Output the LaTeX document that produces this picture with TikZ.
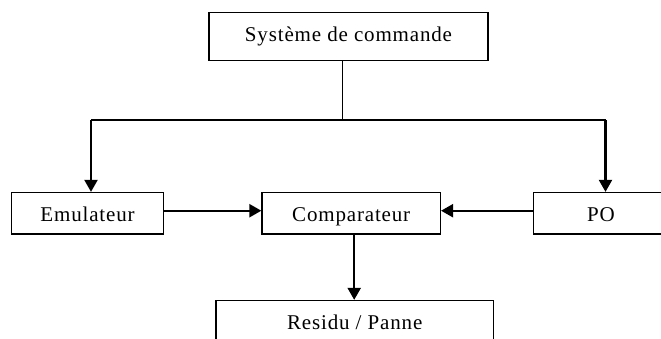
\documentclass[tikz,border=0pt]{standalone}
\usepackage{fontspec}
\setmainfont{Liberation Serif}[LetterSpace=4]
\usetikzlibrary{arrows.meta}

\begin{document}
\begin{tikzpicture}
  [
    x                  = 1pt,
    y                  = 1pt,
    every node/.style  = {font=\fontsize{21}{24}\selectfont},
    block/.style       = {draw, line width=1.2pt, inner sep=0pt,
                          minimum height=41.5pt, text height=19pt, text depth=2pt},
    link/.style        = {draw, line width=1pt},
    flow/.style        = {draw, line width=2.2pt,
                          -{Triangle[length=12pt, width=13pt]}}
  ]
  \useasboundingbox (0,0) rectangle (661,-338);
  \node[block, minimum width=279pt, minimum height=48pt, text height=13pt] (cmd) at (348.5,-36.2) { Système de commande };
  \node[block, minimum width=152pt]   (emu)  at (87.5,-213.2)  { Emulateur };
  \node[block, minimum width=178.5pt] (comp) at (351.2,-213.2) { Comparateur };
  \node[block, minimum width=135pt]   (po)   at (601,-213.2)   { PO };
  \node[block, minimum width=277.5pt] (res)  at (354.7,-321.2) { Residu / Panne };
  \coordinate (split) at (342.5,-120);
  \coordinate (left)  at (91,-120);
  \coordinate (right) at (605.5,-120);
  \draw[link] (cmd.south -| split) -- (split);
  \draw[line width=2pt] (left) -- (right);
  \draw[flow] (left) -- (emu.north -| left);
  \draw[flow] (right) -- (po.north -| right);
  \draw[flow] ([yshift=2.5pt]emu.east) -- ([yshift=2.5pt]comp.west);
  \draw[flow] ([yshift=2.5pt]po.west) -- ([yshift=2.5pt]comp.east);
  \draw[flow] ([xshift=3pt]comp.south) -- ([xshift=3pt]comp.south |- res.north);
\end{tikzpicture}
\end{document}
